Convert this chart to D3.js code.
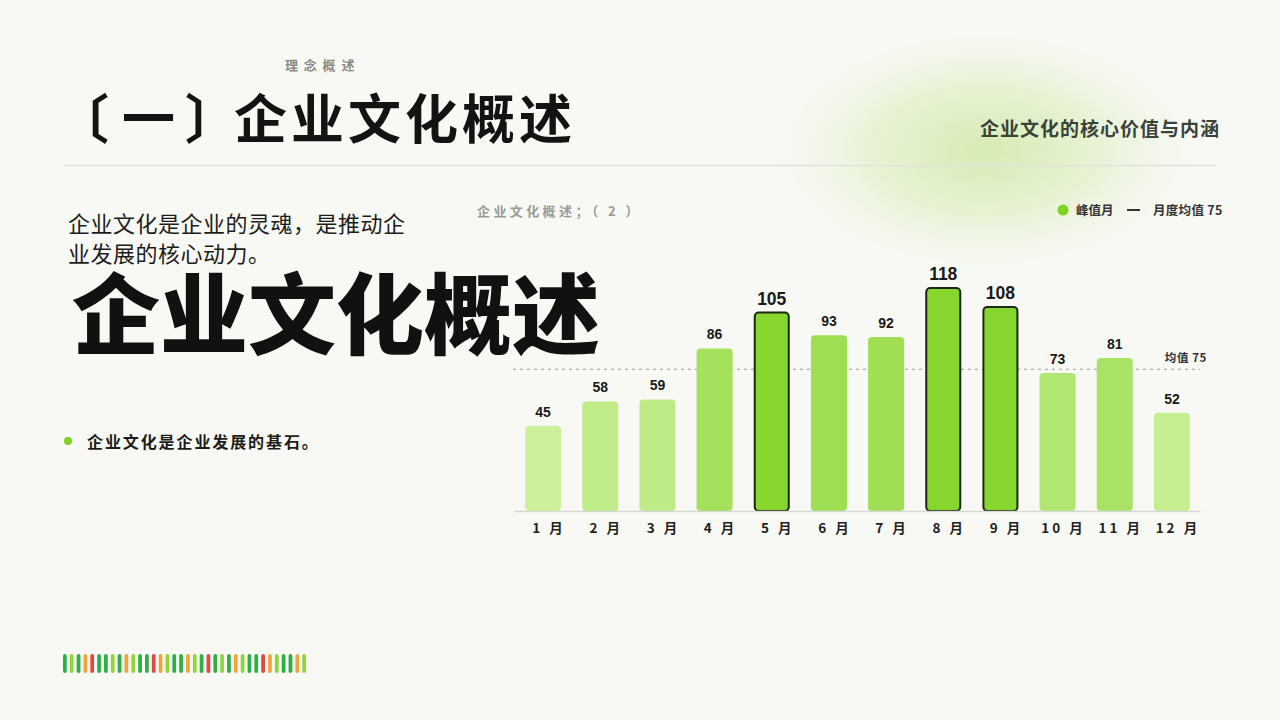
<!DOCTYPE html>
<html>
<head>
<meta charset="utf-8">
<script src="https://cdn.jsdelivr.net/npm/d3@7"></script>
<style>
  html, body { margin: 0; padding: 0; background: #f8f9f5; }
  svg { display: block; }
</style>
</head>
<body>
<svg id="chart" width="1280" height="720"></svg>
<script>
// ---- data ----
const months = ["1", "2", "3", "4", "5", "6", "7", "8", "9", "10", "11", "12"];
const values = [45, 58, 59, 86, 105, 93, 92, 118, 108, 73, 81, 52];
const average = 75;
const peakThreshold = 100;
const monthSuffix = "月";
const stripeColors = ["G","L","G","O","R","G","G","L","G","O","L","G","G","R","O","L","G","G","O","L","G","R","G","L","G","O","L","G","G","R","O","L","G","G","O","L"];

const kicker = "理念概述";
const titleParts = ["〔", "一", "〕", "企业文化概述"];
const subtitle = "企业文化的核心价值与内涵";
const introLines = ["企业文化是企业的灵魂，是推动企", "业发展的核心动力。"];
const bigText = "企业文化概述";
const bulletText = "企业文化是企业发展的基石。";
const chartTitle = "企业文化概述；（ 2 ）";
const legendPeak = "峰值月";
const legendAvg = "月度均值 75";
const avgLabel = "均值 75";

// ---- drawing ----
const CJK = '"Noto Sans CJK SC", "Noto Sans", sans-serif';
const LAT = '"Liberation Sans", Arial, sans-serif';
const svg = d3.select("#chart");
const defs = svg.append("defs");
const glow = defs.append("radialGradient").attr("id", "glow")
  .attr("cx", "50%").attr("cy", "50%").attr("r", "50%");
glow.append("stop").attr("offset", "0%").attr("stop-color", "#d6ebb2").attr("stop-opacity", 1);
glow.append("stop").attr("offset", "45%").attr("stop-color", "#e2f0ca").attr("stop-opacity", 0.8);
glow.append("stop").attr("offset", "100%").attr("stop-color", "#f8f9f5").attr("stop-opacity", 0);

svg.append("rect").attr("width", 1280).attr("height", 720).attr("fill", "#f8f9f5");
svg.append("ellipse").attr("cx", 985).attr("cy", 150).attr("rx", 245).attr("ry", 140).attr("fill", "url(#glow)");

function txt(sel, family) { return sel.style("font-family", family || CJK); }

// header
txt(svg.append("text")).attr("x", 285).attr("y", 70).text(kicker)
  .attr("font-size", 13).attr("font-weight", 700).attr("fill", "#8a8a86").attr("letter-spacing", 5.8);
const title = txt(svg.append("text")).attr("y", 139)
  .attr("font-size", 53).attr("font-weight", 700).attr("fill", "#111410");
const titleX = [56, 122, 185, 234];
titleParts.forEach((p, i) => {
  title.append("tspan").attr("x", titleX[i]).attr("letter-spacing", i === 3 ? 4 : 0).text(p);
});
txt(svg.append("text")).attr("x", 1220).attr("y", 136).attr("text-anchor", "end").text(subtitle)
  .attr("font-size", 19).attr("font-weight", 700).attr("fill", "#3b4238").attr("letter-spacing", 1);
svg.append("line").attr("x1", 64).attr("x2", 1216).attr("y1", 165.5).attr("y2", 165.5)
  .attr("stroke", "#e1e3dd").attr("stroke-width", 1.5);

// left text
introLines.forEach((l, i) => {
  txt(svg.append("text")).attr("x", 68).attr("y", 232 + i * 30).text(l)
    .attr("font-size", 22).attr("font-weight", 400).attr("fill", "#1c1c1a").attr("letter-spacing", 0.5);
});
txt(svg.append("text")).attr("x", 72).attr("y", 347).text(bigText)
  .attr("font-size", 88).attr("font-weight", 900).attr("fill", "#0f120e").attr("letter-spacing", 0);
svg.append("circle").attr("cx", 68).attr("cy", 441).attr("r", 4).attr("fill", "#7ed321");
txt(svg.append("text")).attr("x", 87).attr("y", 448).text(bulletText)
  .attr("font-size", 16).attr("font-weight", 700).attr("fill", "#1c1c1a").attr("letter-spacing", 1.9);

// stripes
const stripeFill = { G: "#2fae48", L: "#8fd63a", O: "#eea53c", R: "#df4646" };
const sx = d3.scaleBand().domain(d3.range(stripeColors.length)).range([63, 306]).paddingInner(0.45);
svg.append("g").selectAll("rect").data(stripeColors).join("rect")
  .attr("x", (d, i) => sx(i)).attr("y", 654).attr("width", sx.bandwidth()).attr("height", 19)
  .attr("rx", 2).attr("fill", d => stripeFill[d]);

// chart title & legend
txt(svg.append("text")).attr("x", 477).attr("y", 216).text(chartTitle)
  .attr("font-size", 13).attr("font-weight", 700).attr("fill", "#9a9b97").attr("letter-spacing", 3.4);
svg.append("circle").attr("cx", 1063).attr("cy", 210).attr("r", 5.5).attr("fill", "#7ed321");
txt(svg.append("text")).attr("x", 1076).attr("y", 215).text(legendPeak)
  .attr("font-size", 12.5).attr("font-weight", 700).attr("fill", "#333");
svg.append("line").attr("x1", 1127).attr("x2", 1140).attr("y1", 210).attr("y2", 210)
  .attr("stroke", "#333").attr("stroke-width", 2);
txt(svg.append("text")).attr("x", 1153).attr("y", 215).text(legendAvg)
  .attr("font-size", 12.5).attr("font-weight", 700).attr("fill", "#333").attr("letter-spacing", 0.3);

// scales
const x = d3.scaleBand().domain(months).range([514.5, 1200.5]).paddingInner(0.37).paddingOuter(0.185);
const y = d3.scaleLinear().domain([0, 130]).range([511, 265.3]);
const color = d3.scaleLinear().domain([45, 118]).range(["#ccf09c", "#84d62c"]);
const isPeak = v => v >= peakThreshold;

// average line
svg.append("line").attr("x1", 513).attr("x2", 1200).attr("y1", y(average)).attr("y2", y(average))
  .attr("stroke", "#9c9d99").attr("stroke-width", 1.2).attr("stroke-dasharray", "3,4");
txt(svg.append("text")).attr("x", 1207).attr("y", y(average) - 7).attr("text-anchor", "end").text(avgLabel)
  .attr("font-size", 11.5).attr("font-weight", 700).attr("fill", "#333").attr("letter-spacing", 0.6);

// bars
const g = svg.append("g");
g.selectAll("rect.bar").data(values).join("rect").attr("class", "bar")
  .attr("x", (d, i) => x(months[i]) + (isPeak(d) ? 1 : 0))
  .attr("width", (d) => x.bandwidth() - (isPeak(d) ? 2 : 0))
  .attr("y", d => y(d))
  .attr("height", d => y(0) - y(d))
  .attr("rx", 4)
  .attr("fill", d => isPeak(d) ? "#86d62e" : color(d))
  .attr("stroke", d => isPeak(d) ? "#1b2812" : "none")
  .attr("stroke-width", 2);

// axis line
svg.append("line").attr("x1", 514.5).attr("x2", 1200.5).attr("y1", y(0) + 0.5).attr("y2", y(0) + 0.5)
  .attr("stroke", "#d5d7d1").attr("stroke-width", 1.5);

// value labels
g.selectAll("text.val").data(values).join("text").attr("class", "val")
  .style("font-family", LAT)
  .attr("x", (d, i) => x(months[i]) + x.bandwidth() / 2)
  .attr("y", d => y(d) - (isPeak(d) ? 8 : 9))
  .attr("text-anchor", "middle")
  .attr("font-size", d => isPeak(d) ? 17.5 : 14)
  .attr("font-weight", 700)
  .attr("fill", "#1a1a1a")
  .text(d => d);

// x axis labels
g.selectAll("text.mon").data(months).join("text").attr("class", "mon")
  .style("font-family", CJK)
  .attr("x", d => x(d) + x.bandwidth() / 2 + 6)
  .attr("y", 533)
  .attr("text-anchor", "middle")
  .attr("font-size", 13.5).attr("font-weight", 700).attr("fill", "#1f1f1f").attr("letter-spacing", 3)
  .text(d => d + " " + monthSuffix);
</script>
</body>
</html>
